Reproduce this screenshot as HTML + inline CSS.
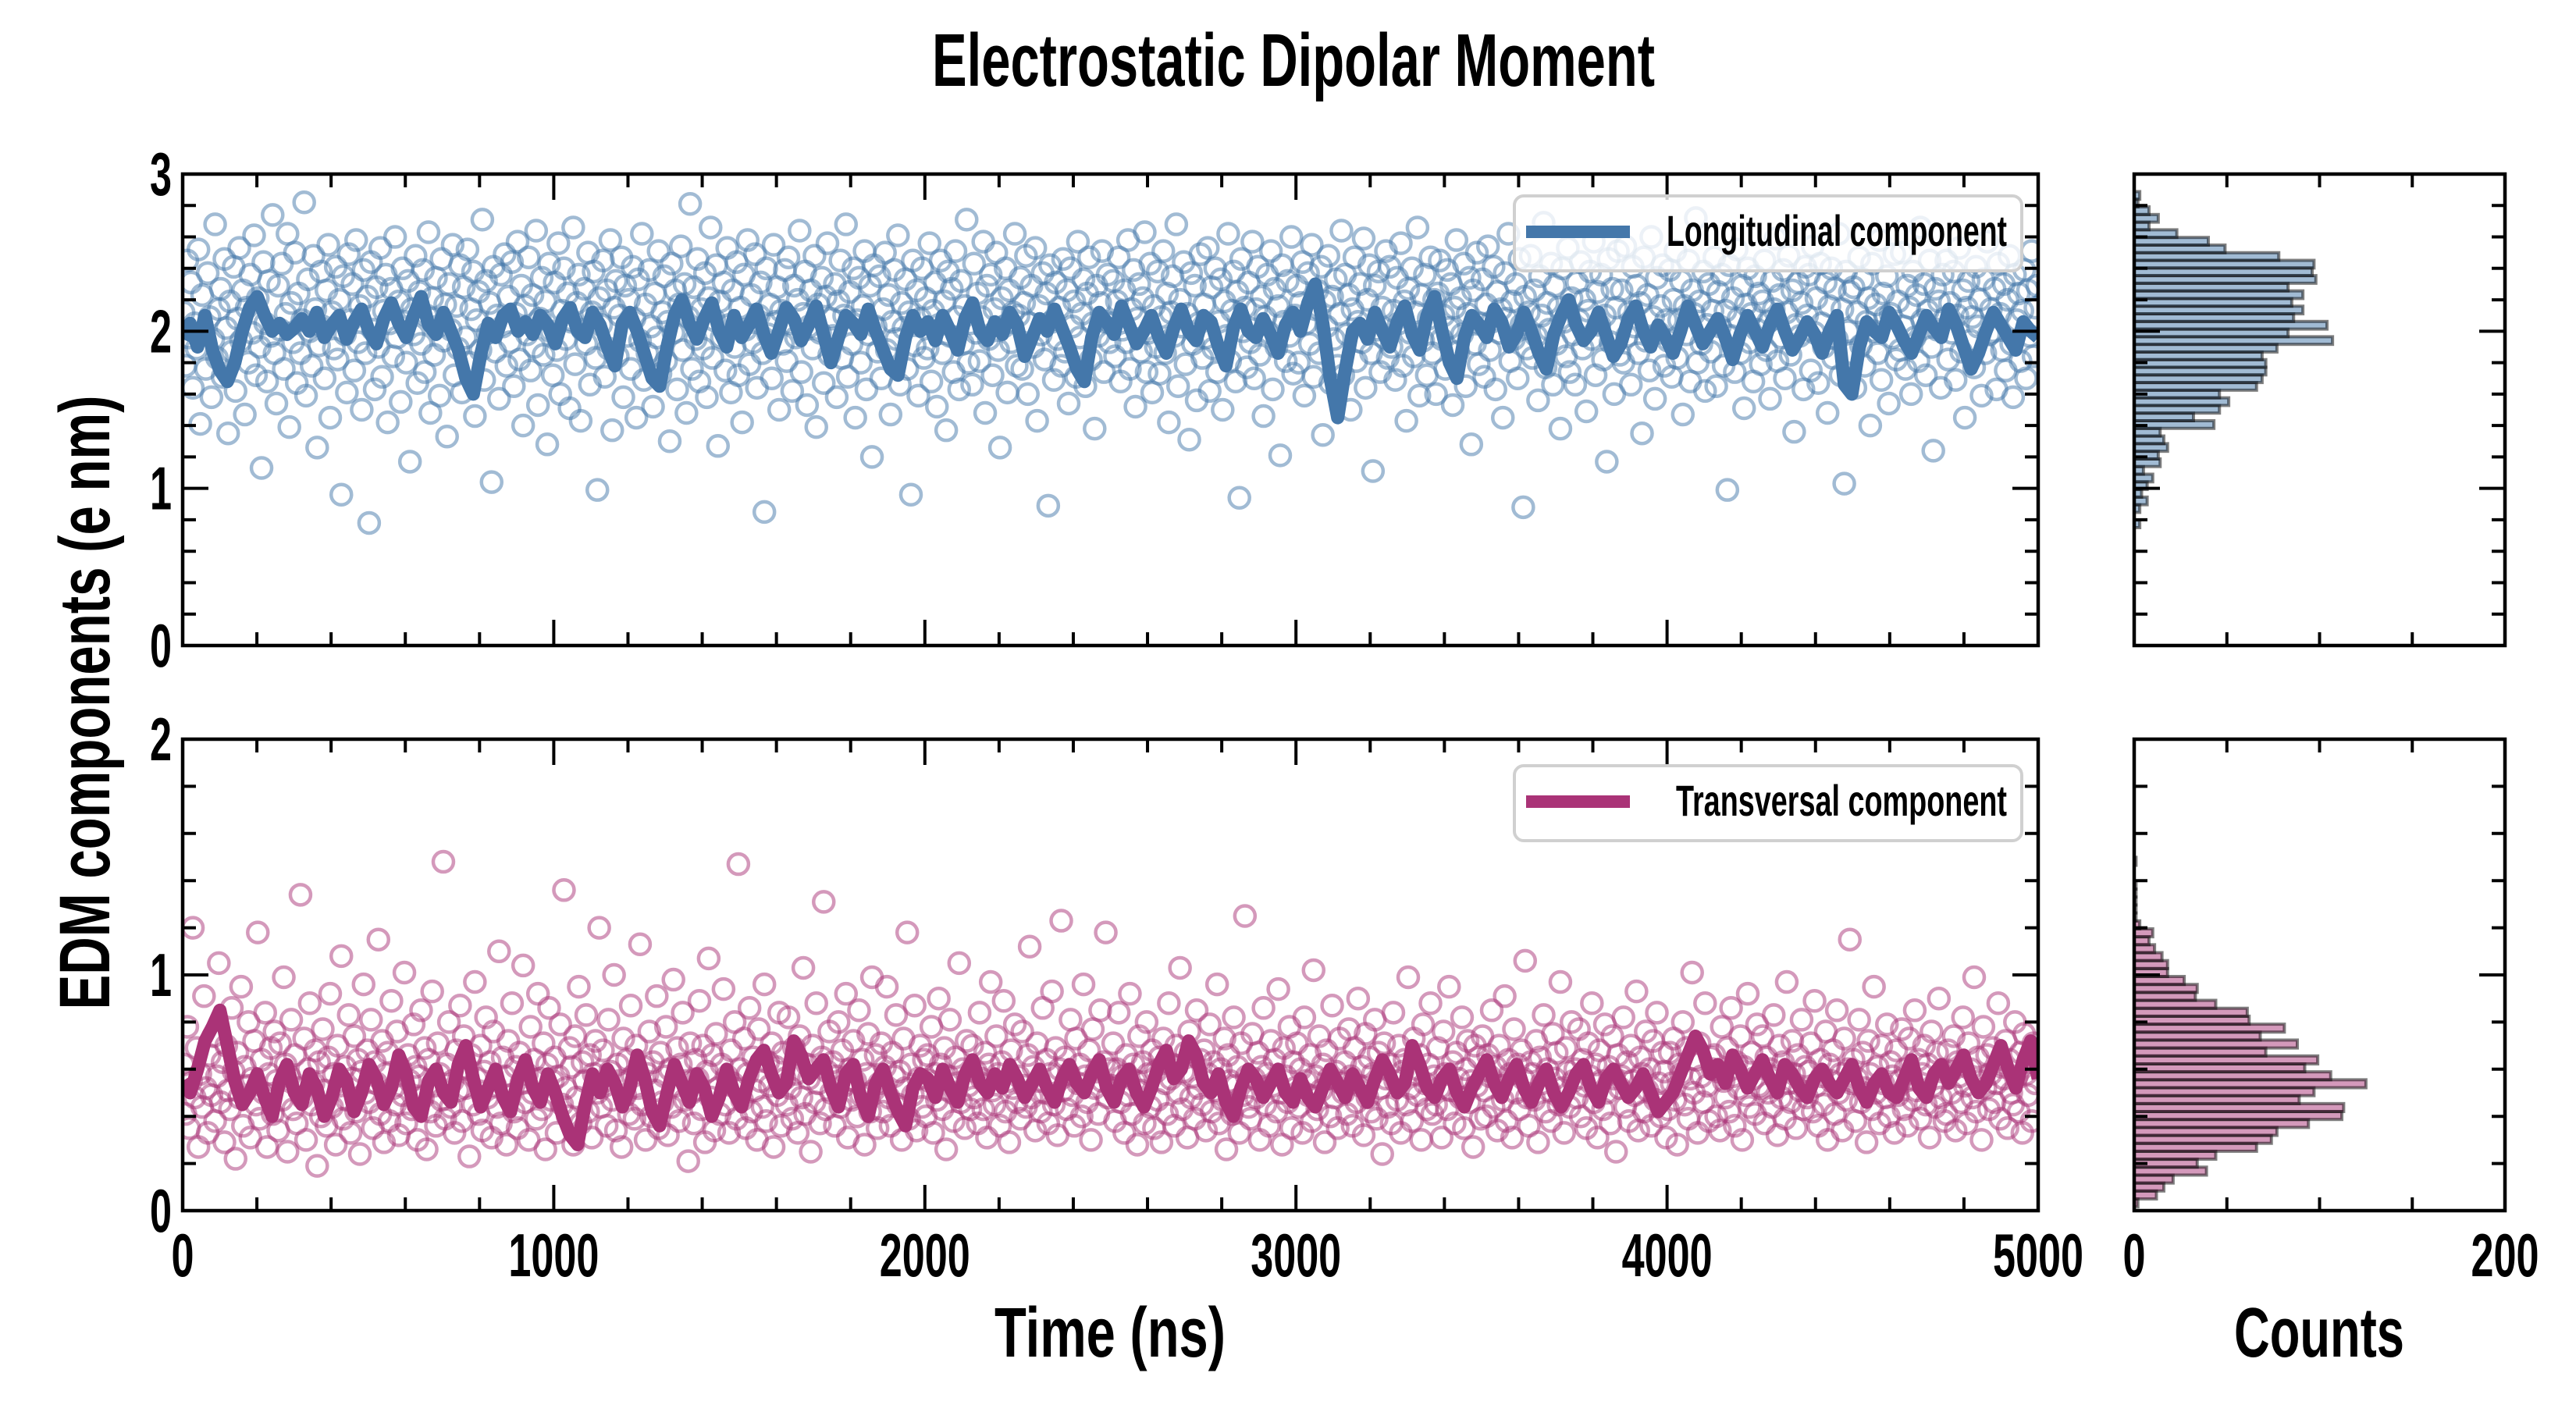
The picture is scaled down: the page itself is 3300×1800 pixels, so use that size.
<!DOCTYPE html>
<html><head><meta charset="utf-8"><style>
html,body{margin:0;padding:0;background:#fff;}
svg{display:block;}
text{font-family:"Liberation Sans Narrow","Liberation Sans",sans-serif;font-weight:bold;fill:#000;}
</style></head><body>
<svg id="fig" width="3300" height="1800" viewBox="0 0 3300 1800" xmlns="http://www.w3.org/2000/svg">
<defs>
<clipPath id="clipTop"><rect x="234" y="223" width="2377" height="604"/></clipPath>
<clipPath id="clipBot"><rect x="234" y="947" width="2377" height="604"/></clipPath>
</defs>
<text x="1657" y="110" font-size="96" text-anchor="middle" textLength="926" lengthAdjust="spacingAndGlyphs">Electrostatic Dipolar Moment</text>
<text transform="translate(140,900) rotate(-90)" font-size="92" text-anchor="middle" textLength="787" lengthAdjust="spacingAndGlyphs">EDM components (e nm)</text>
<text x="1422" y="1738" font-size="90" text-anchor="middle" textLength="296" lengthAdjust="spacingAndGlyphs">Time (ns)</text>
<text x="2971" y="1738" font-size="90" text-anchor="middle" textLength="218" lengthAdjust="spacingAndGlyphs">Counts</text>
<g id="layer"></g>
</svg>
<script>
// ---- data ----
const timeMax = 5000;
const topLine = [195,205,190,210,188,175,168,180,200,215,222,210,200,205,198,202,208,200,212,196,204,210,195,206,214,200,192,208,218,205,196,210,222,204,198,212,200,188,170,160,185,205,196,210,214,200,206,198,210,204,
192,208,215,200,196,212,204,190,178,205,212,200,185,170,165,190,210,220,205,195,208,218,200,190,210,196,204,214,198,186,200,215,208,194,204,216,198,180,196,210,205,198,214,200,188,176,172,196,210,200,
206,194,210,200,188,208,218,200,194,206,198,212,204,184,196,208,200,214,202,190,176,168,196,212,206,198,216,204,192,200,210,196,186,202,214,200,194,210,206,190,178,202,214,200,196,208,198,186,204,212,
200,218,230,205,170,145,175,200,205,195,212,200,190,206,216,198,188,210,222,200,180,170,196,210,204,196,214,206,190,198,212,200,186,176,198,210,220,204,194,200,212,198,184,192,208,216,200,190,204,196,
186,200,216,204,192,200,208,196,182,198,210,200,190,204,214,200,188,196,206,198,186,200,210,166,160,190,206,200,196,212,204,194,186,198,210,202,196,214,204,190,176,186,200,212,204,196,188,206,200,196];
const botLine = [55,50,60,72,78,85,70,55,45,50,58,48,40,55,62,50,45,58,52,40,48,60,55,42,50,62,56,45,52,66,58,44,40,55,60,50,46,62,70,56,44,52,60,48,42,56,64,52,46,58,
50,40,32,28,45,58,50,60,54,44,52,66,56,42,36,50,62,54,46,58,52,40,48,60,50,44,56,64,68,58,50,54,72,66,56,60,64,52,44,58,62,48,40,54,60,50,42,36,52,58,
56,48,60,52,46,58,64,54,50,58,52,62,56,48,54,60,52,46,56,62,54,50,58,64,52,46,56,60,50,44,52,62,68,56,60,72,66,54,50,58,46,40,52,60,56,48,54,60,50,46,
56,48,44,52,60,54,48,58,52,46,56,64,58,50,54,70,62,52,48,56,60,50,44,52,58,64,54,48,56,62,52,46,54,60,50,44,50,58,62,52,46,56,60,54,48,52,58,50,42,46,
50,58,66,74,68,58,62,54,66,60,52,58,64,56,50,62,58,52,48,56,60,54,50,56,62,52,46,54,58,50,48,56,64,52,48,58,62,54,60,66,56,50,54,62,70,60,52,64,72,56];
const topScatter = [212,178,245,196,231,164,205,189,252,141,223,198,176,237,209,158,195,268,183,214,227,171,246,202,135,
219,187,241,162,208,253,194,226,147,215,180,236,199,261,172,221,190,113,244,205,168,232,197,274,186,
154,229,201,243,176,211,262,139,218,193,250,167,224,186,207,282,159,233,200,178,248,214,126,191,238,
203,170,226,255,145,212,189,241,182,220,96,235,198,161,249,207,230,175,258,193,216,150,239,186,222,
78,244,201,163,228,190,253,171,213,236,142,205,227,184,260,196,219,155,240,206,180,232,117,214,198,
248,167,225,192,239,174,210,263,148,221,185,234,203,159,246,194,217,133,230,201,255,172,216,189,242,
161,228,196,252,180,214,238,146,207,225,188,271,169,232,199,218,104,241,187,210,157,236,203,249,178,
222,193,244,165,211,257,182,229,140,216,198,247,175,223,190,264,153,208,234,185,219,128,243,200,172,
231,188,256,160,213,240,195,224,151,206,266,179,218,236,143,201,227,192,250,166,212,238,183,99,221,
204,245,171,226,189,258,137,215,232,184,210,247,158,229,197,220,176,241,208,145,233,194,262,169,217,
186,239,203,152,224,196,251,173,212,235,181,206,130,243,199,226,163,217,254,188,230,148,209,281,176,
228,195,246,168,214,189,237,158,221,266,183,207,242,127,219,196,231,175,253,204,161,226,190,244,172,
215,142,236,201,258,179,223,193,249,164,210,231,186,85,240,198,217,170,255,206,228,150,213,192,239,
181,247,205,162,229,196,220,264,174,211,238,153,203,226,189,248,139,217,199,234,167,222,256,185,208,
197,230,158,219,245,183,210,268,171,225,192,240,145,207,234,180,216,251,163,198,229,120,242,203,187,
235,170,214,250,188,223,147,206,239,195,261,166,218,202,233,176,212,96,245,191,226,159,208,240,183,
221,189,256,168,213,231,152,204,245,186,219,137,238,197,227,174,251,209,163,232,192,216,271,180,205,
166,243,199,224,181,209,257,148,229,195,236,172,214,250,188,126,221,203,240,161,226,193,212,262,178,
210,234,176,218,248,160,205,229,190,253,143,216,198,237,182,224,89,242,206,169,231,195,215,178,246,
187,226,154,240,203,219,171,257,196,211,233,165,224,247,182,205,138,229,197,218,251,174,206,236,193,
205,232,184,219,247,168,201,226,193,258,176,214,239,152,208,230,187,221,263,174,199,243,161,216,190,
238,173,209,251,186,224,142,212,235,197,268,165,220,203,244,179,211,131,237,192,229,156,205,249,183,
217,196,253,162,228,189,240,174,206,233,150,219,197,262,181,213,238,168,225,94,246,200,215,177,231,
193,257,170,214,241,185,222,146,209,236,199,251,163,227,190,216,121,242,206,181,232,197,260,173,210,
229,180,218,244,159,205,237,192,255,171,214,226,186,241,134,219,203,248,167,222,195,233,178,211,264,
172,236,198,223,150,214,247,181,206,230,193,259,164,220,242,186,111,229,201,238,174,215,196,251,183,
241,190,213,169,234,205,256,178,219,143,227,199,240,184,212,266,159,223,194,236,172,208,247,186,220,
160,224,245,195,210,176,239,202,230,153,215,258,187,221,198,243,165,211,234,128,226,192,250,179,205,
233,171,217,254,188,206,241,163,225,199,214,145,237,208,262,181,219,195,230,170,246,204,88,222,189,
212,248,183,226,197,156,235,210,269,177,218,201,243,166,229,192,215,138,240,206,184,253,174,221,198,
166,231,207,244,189,220,149,213,238,195,257,172,225,204,236,182,210,117,246,193,227,160,215,251,185,
226,180,254,197,212,166,241,203,229,186,218,135,247,194,223,175,260,209,157,234,199,216,242,178,207,
194,239,171,220,251,183,207,232,147,216,198,245,168,226,211,272,180,219,192,238,162,204,230,187,213,
247,165,225,203,236,178,213,99,242,197,221,174,252,208,186,229,151,217,240,193,211,168,235,201,224,
179,219,245,188,206,157,232,214,259,181,223,196,239,170,212,248,185,226,136,204,231,197,218,163,241,
210,236,175,254,199,221,167,243,205,190,231,148,216,240,183,227,195,262,172,214,103,238,200,225,186,
228,164,212,247,191,233,178,206,221,140,243,200,217,186,258,169,224,209,235,154,211,196,249,182,219,
188,250,203,176,229,215,160,238,196,223,181,266,207,230,172,213,245,190,124,227,201,219,164,236,208,
245,182,218,199,238,169,210,253,187,226,145,215,232,194,209,177,241,203,220,159,233,186,257,198,214,
200,227,163,243,211,188,230,175,220,248,192,158,236,207,224,181,213,239,170,226,197,251,184,215,229];
const botScatter = [62,41,78,35,55,120,48,69,27,58,44,91,52,33,66,49,74,38,57,105,46,63,29,70,51,
43,86,59,22,67,48,95,36,61,53,80,31,56,72,45,118,39,64,50,84,27,58,69,41,76,
55,34,71,47,99,62,25,57,81,43,66,37,52,134,48,73,30,60,88,45,54,68,19,63,40,
77,51,36,65,92,44,58,28,70,53,108,39,61,47,83,33,56,74,42,64,24,59,96,50,68,
46,81,35,63,54,115,41,72,29,58,67,38,89,52,45,76,32,60,49,101,37,66,55,43,79,
61,30,57,85,48,69,26,64,42,93,53,36,71,58,47,148,39,62,80,44,55,33,68,51,87,
38,74,52,60,23,66,45,97,56,41,70,34,59,82,48,63,31,76,53,44,110,37,65,57,28,
72,49,88,42,61,35,67,54,104,46,58,30,78,50,64,39,92,56,43,71,26,62,86,47,55,
65,33,57,79,45,136,52,40,69,61,28,74,48,95,37,63,55,83,42,66,31,58,72,50,120,
44,68,53,36,81,59,47,100,34,62,55,27,73,49,64,41,87,57,39,70,52,113,45,61,30,
58,76,40,63,51,91,35,67,46,57,78,32,60,44,98,53,69,38,62,84,47,55,21,71,50,
37,64,56,89,43,70,29,59,107,48,66,34,75,52,41,62,94,45,57,33,68,54,80,39,147,
60,47,73,35,58,86,42,65,51,30,77,55,44,96,38,63,53,71,27,61,49,84,36,67,56,
45,82,52,39,69,58,33,74,48,103,41,62,56,25,70,46,88,54,37,65,131,43,59,76,50,
63,36,57,80,44,68,53,92,31,60,47,72,55,40,85,49,64,28,58,75,42,99,51,66,35,
54,71,42,61,95,48,36,67,57,83,45,59,30,73,52,118,39,62,49,87,34,56,70,44,64,
40,66,55,78,33,58,47,90,62,43,69,26,57,81,50,38,65,54,105,46,60,35,72,53,43,
70,48,59,37,84,56,43,67,31,62,97,51,45,74,58,36,63,89,42,55,29,68,52,79,46,
57,39,76,53,44,66,112,48,61,34,71,55,42,86,50,64,37,58,93,45,69,32,60,123,51,
65,43,58,81,49,36,73,54,62,40,96,57,46,68,30,77,52,59,41,85,55,63,118,48,60,
53,71,38,60,84,46,57,33,66,49,92,41,62,55,28,74,51,63,37,80,58,44,68,35,59,
47,65,29,73,54,41,88,56,62,36,70,50,103,43,59,67,31,76,48,57,39,85,52,64,45,
68,34,58,79,42,63,51,96,37,60,47,73,26,66,55,41,82,53,61,33,71,49,125,57,44,
39,75,56,48,67,30,61,86,45,58,36,72,53,64,42,94,50,28,69,57,46,78,35,63,52,
71,44,60,33,82,55,49,66,38,102,57,43,74,51,62,29,68,56,40,87,48,59,35,73,54,
50,63,41,77,57,36,69,46,90,53,61,32,75,48,65,42,58,81,39,67,52,24,71,56,44,
62,37,84,55,47,70,33,59,64,45,99,52,38,73,58,49,66,30,79,54,43,62,88,41,57,
45,69,52,31,76,58,43,95,51,63,37,67,56,48,82,35,60,72,46,55,27,70,53,65,39,
74,51,40,66,57,85,44,61,34,70,53,47,91,38,64,58,31,77,50,62,43,68,56,106,48,
36,63,58,47,72,29,65,54,83,42,60,51,38,75,56,67,45,97,52,33,69,59,44,80,55,
60,48,77,40,64,53,35,71,57,88,46,62,31,68,55,43,79,50,61,37,74,56,25,66,52,
57,82,44,63,38,70,55,49,93,34,65,58,42,76,51,60,36,72,47,84,54,40,67,59,31,
43,67,54,73,47,28,62,58,80,45,69,39,56,101,50,64,33,71,57,46,88,53,38,65,60,
66,40,59,34,78,55,48,69,42,86,57,36,63,52,74,30,61,49,92,44,67,56,41,79,53,
52,74,37,65,50,60,44,83,57,32,70,48,63,39,97,54,46,72,58,35,66,51,81,43,61,
48,59,71,42,89,53,36,64,57,45,76,30,62,55,68,41,85,50,58,34,73,47,60,115,54,
64,38,56,81,46,67,52,29,72,58,43,95,50,61,37,70,54,48,79,40,63,57,33,68,49,
55,77,43,60,36,73,56,47,85,51,64,39,58,70,45,62,31,76,53,44,67,90,48,59,38,
41,68,59,50,74,34,63,57,46,82,53,37,71,60,48,99,42,65,55,30,78,52,66,43,58,
69,46,54,88,39,61,56,72,35,64,50,45,80,57,42,67,33,75,58,49,63,38,71,54,62];
// histogram counts, bottom bin upward
const topHistStart = 0.75, topHistWidth = 0.0486;
const topHistCounts = [3,0,3,7,4,7,10,5,14,13,18,16,14,43,32,46,51,46,66,69,71,71,69,77,107,83,104,86,91,85,91,83,98,96,97,78,49,40,23,8,13,8,2,3];
const botHistStart = 0.016, botHistWidth = 0.0337;
const botHistCounts = [2,12,16,21,39,34,44,66,74,77,94,112,113,89,97,125,106,92,99,71,88,68,81,62,61,44,33,34,27,18,18,15,11,8,10,3,1,1,1,1,1,0,0,1];
const yTicksTop = ["0","1","2","3"];
const yTicksBot = ["0","1","2"];
const xTickLabels = ["0","1000","2000","3000","4000","5000"];
const histTickLabels = ["0","200"];

// ---- geometry ----
const NS = "http://www.w3.org/2000/svg";
const layer = document.getElementById('layer');
const MX0 = 234, MX1 = 2611, HX0 = 2734, HX1 = 3209;
const panels = {top:{y0:223,y1:827,ymax:3}, bot:{y0:947,y1:1551,ymax:2}};
const blue = "#4477AA", mag = "#AA3377";
function xT(t){ return MX0 + t/timeMax*(MX1-MX0); }
function yV(p, v){ return p.y1 - v/p.ymax*(p.y1-p.y0); }
function xC(c){ return HX0 + c/200*(HX1-HX0); }
function mk(tag, attrs, parent){
  const e = document.createElementNS(NS, tag);
  for (const k in attrs) e.setAttribute(k, attrs[k]);
  (parent||layer).appendChild(e); return e;
}

function drawScatter(p, vals, color, clip, name){
  const g = mk('g', {'clip-path':'url(#'+clip+')'});
  
  
  const n = vals.length;
  vals.forEach((v,i)=>{
    const c = mk('circle', {cx:xT((i+0.5)/n*timeMax), cy:yV(p, v/100), r:13, fill:'none', stroke:color, 'stroke-width':4.5, 'stroke-opacity':0.5}, g);
    
    
  });
}
function drawLine(p, vals, color, clip, name){
  const n = vals.length;
  const pts = vals.map((v,i)=> xT(i/(n-1)*timeMax).toFixed(1)+','+yV(p, v/100).toFixed(1)).join(' ');
  const l = mk('polyline', {points:pts, fill:'none', stroke:color, 'stroke-width':17, 'stroke-linejoin':'round', 'clip-path':'url(#'+clip+')'});
  
  
}
function drawHist(p, start, w, counts, color, name){
  const g = mk('g', {});
  
  
  counts.forEach((c,i)=>{
    if (c<=0) return;
    const yt = yV(p, start+(i+1)*w), yb = yV(p, start+i*w);
    const r = mk('rect', {x:HX0, y:yt, width:xC(c)-HX0, height:yb-yt, fill:color, 'fill-opacity':0.5, stroke:'#000', 'stroke-opacity':0.5, 'stroke-width':4}, g);
    
    
  });
}
function frame(x0,x1,p,xMajors,xMinors,name){
  const g = mk('g', {stroke:'#000', 'stroke-width':4, fill:'none'});
  
  
  const L = 33, S = 17;
  xMajors.forEach(x=>{ mk('line',{x1:x,x2:x,y1:p.y1,y2:p.y1-L},g); mk('line',{x1:x,x2:x,y1:p.y0,y2:p.y0+L},g); });
  xMinors.forEach(x=>{ mk('line',{x1:x,x2:x,y1:p.y1,y2:p.y1-S},g); mk('line',{x1:x,x2:x,y1:p.y0,y2:p.y0+S},g); });
  for (let k=0;k<=p.ymax*5;k++){
    const y = yV(p, k*0.2), len = (k%5===0)?L:S;
    mk('line',{x1:x0,x2:x0+len,y1:y,y2:y},g); mk('line',{x1:x1,x2:x1-len,y1:y,y2:y},g);
  }
  mk('rect',{x:x0,y:p.y0,width:x1-x0,height:p.y1-p.y0,'stroke-width':4.5},g);
}
function txt(s,x,y,size,anchor,len,name){
  const t = mk('text',{x:x,y:y,'font-size':size,'text-anchor':anchor,textLength:len,lengthAdjust:'spacingAndGlyphs'});
  t.textContent = s;
  
  
}
function legend(p, y0, label, color, name, textW){
  const g = mk('g', {});
  
  
  mk('rect',{x:1940,y:y0,width:650,height:96,rx:12,fill:'#fff','fill-opacity':0.8,stroke:'#d0d0d0','stroke-width':4},g);
  mk('line',{x1:1955,x2:2088,y1:y0+46,y2:y0+46,stroke:color,'stroke-width':16},g);
  const t = mk('text',{x:2571,y:y0+64,'font-size':56,'text-anchor':'end',textLength:textW,lengthAdjust:'spacingAndGlyphs'},g);
  t.textContent = label;
  
  
}

const xMaj = [0,1000,2000,3000,4000,5000].map(xT);
const xMin = []; for (let t=200;t<5000;t+=200) if (t%1000) xMin.push(xT(t));
const hMaj = [0,200].map(xC), hMin = [50,100,150].map(xC);

drawScatter(panels.top, topScatter, blue, 'clipTop', 'longitudinal-scatter');
drawLine(panels.top, topLine, blue, 'clipTop', 'longitudinal-line');
drawScatter(panels.bot, botScatter, mag, 'clipBot', 'transversal-scatter');
drawLine(panels.bot, botLine, mag, 'clipBot', 'transversal-line');
drawHist(panels.top, topHistStart, topHistWidth, topHistCounts, blue, 'longitudinal-histogram');
drawHist(panels.bot, botHistStart, botHistWidth, botHistCounts, mag, 'transversal-histogram');
frame(MX0,MX1,panels.top,xMaj,xMin,'top-axes');
frame(MX0,MX1,panels.bot,xMaj,xMin,'bottom-axes');
frame(HX0,HX1,panels.top,hMaj,hMin,'top-hist-axes');
frame(HX0,HX1,panels.bot,hMaj,hMin,'bottom-hist-axes');
legend(panels.top, 251, 'Longitudinal component', blue, 'legend-longitudinal', 436);
legend(panels.bot, 981, 'Transversal component', mag, 'legend-transversal', 424);

yTicksTop.forEach((s,i)=> txt(s, 220, yV(panels.top, +s)+27, 78, 'end', 28, 'y-tick-label'));
yTicksBot.forEach((s,i)=> txt(s, 220, yV(panels.bot, +s)+27, 78, 'end', 28, 'y-tick-label'));
xTickLabels.forEach(s=> txt(s, xT(+s), 1635, 78, 'middle', s.length*29, 'x-tick-label'));
histTickLabels.forEach(s=> txt(s, xC(+s), 1635, 78, 'middle', s.length*29, 'hist-x-tick-label'));
</script>
</body></html>
